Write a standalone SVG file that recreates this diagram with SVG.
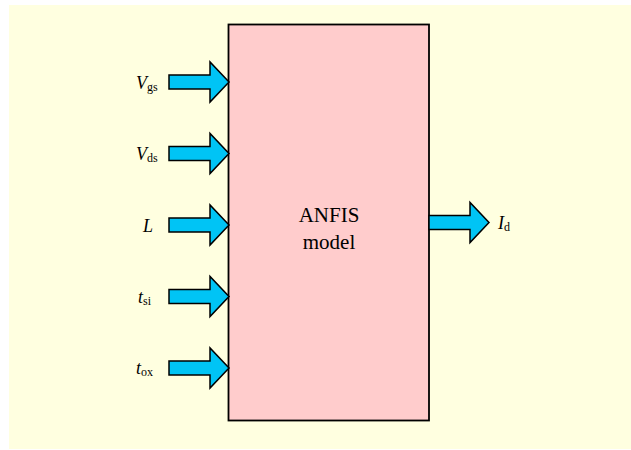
<svg xmlns="http://www.w3.org/2000/svg" width="631" height="450" viewBox="0 0 631 450">
<style>
text{font-family:'Liberation Serif','Times New Roman',Times,serif}
.lbl{font-size:18px;fill:#000}
.it{font-style:italic}
.sub{font-size:12px;font-style:normal}
.arr{fill:#00c4f5;stroke:#000;stroke-width:1.5;stroke-linejoin:miter}
.main{font-size:21px;fill:#000;text-anchor:middle}
</style>
<defs>
<path id="ar" d="M0,-7 H41 V-20 L60,0 L41,20 V7 H0 Z"/>
</defs>
<rect x="9" y="5" width="622" height="444" fill="#ffffe0"/>
<g id="anfis">
<rect x="228.5" y="24.5" width="200.5" height="396" fill="#ffcccc" stroke="#000" stroke-width="1.8"/>
<text class="main" x="329" y="222">ANFIS</text>
<text class="main" x="329" y="249">model</text>
</g>
<g id="connectors">
<use href="#ar" class="arr" x="169" y="82"/>
<use href="#ar" class="arr" x="169" y="153.5"/>
<use href="#ar" class="arr" x="169" y="225"/>
<use href="#ar" class="arr" x="169" y="296.5"/>
<use href="#ar" class="arr" x="169" y="368"/>
<use href="#ar" class="arr" x="429" y="222.5"/>
</g>
<g id="in-vgs"><text class="lbl" x="136" y="89"><tspan class="it">V</tspan><tspan class="sub" dy="2">gs</tspan></text></g>
<g id="in-vds"><text class="lbl" x="136" y="160"><tspan class="it">V</tspan><tspan class="sub" dy="2">ds</tspan></text></g>
<g id="in-l"><text class="lbl it" x="143" y="232">L</text></g>
<g id="in-tsi"><text class="lbl" x="138" y="303"><tspan class="it">t</tspan><tspan class="sub" dy="2">si</tspan></text></g>
<g id="in-tox"><text class="lbl" x="136" y="374"><tspan class="it">t</tspan><tspan class="sub" dy="2">ox</tspan></text></g>
<g id="out-id"><text class="lbl" x="498" y="229"><tspan class="it">I</tspan><tspan class="sub" dy="2">d</tspan></text></g>
</svg>
